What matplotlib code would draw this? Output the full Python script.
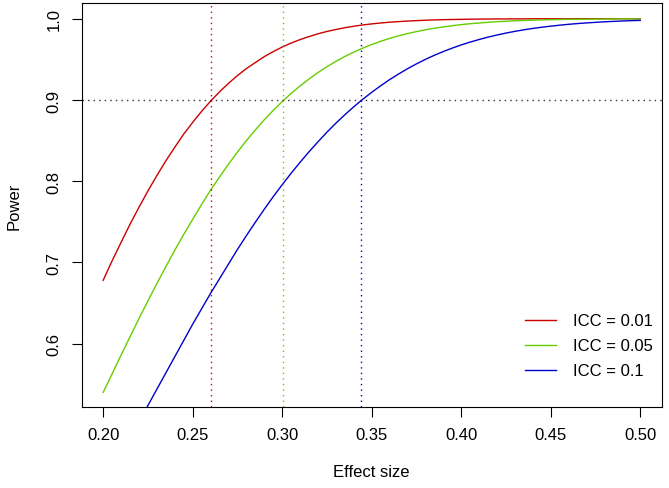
import matplotlib
matplotlib.use("Agg")
import matplotlib.pyplot as plt

plt.rcParams['font.family'] = ['Liberation Sans', 'DejaVu Sans']

# effect sizes and power (every 0.005)
effect = [0.200, 0.205, 0.210, 0.215, 0.220, 0.225, 0.230, 0.235, 0.240, 0.245,
          0.250, 0.255, 0.260, 0.265, 0.270, 0.275, 0.280, 0.285, 0.290, 0.295,
          0.300, 0.305, 0.310, 0.315, 0.320, 0.325, 0.330, 0.335, 0.340, 0.345,
          0.350, 0.355, 0.360, 0.365, 0.370, 0.375, 0.380, 0.385, 0.390, 0.395,
          0.400, 0.405, 0.410, 0.415, 0.420, 0.425, 0.430, 0.435, 0.440, 0.445,
          0.450, 0.455, 0.460, 0.465, 0.470, 0.475, 0.480, 0.485, 0.490, 0.495,
          0.500]

power_icc01 = [0.6780, 0.7020, 0.7247, 0.7470, 0.7679, 0.7880, 0.8070, 0.8250, 0.8418, 0.8580,
               0.8724, 0.8860, 0.8985, 0.9100, 0.9204, 0.9300, 0.9386, 0.9460, 0.9533, 0.9595,
               0.9651, 0.9700, 0.9743, 0.9780, 0.9814, 0.9843, 0.9867, 0.9889, 0.9907, 0.9923,
               0.9936, 0.9947, 0.9957, 0.9964, 0.9971, 0.9976, 0.9981, 0.9985, 0.9988, 0.9990,
               0.9992, 0.9994, 0.9995, 0.9996, 0.9997, 0.9997, 0.9998, 0.9998, 0.9999, 0.9999,
               0.9999, 0.9999, 0.9999, 1.0, 1.0, 1.0, 1.0, 1.0, 1.0, 1.0,
               1.0]
power_icc05 = [0.5400, 0.5630, 0.5860, 0.6085, 0.6310, 0.6527, 0.6740, 0.6948, 0.7150, 0.7345,
               0.7530, 0.7714, 0.7890, 0.8052, 0.8210, 0.8358, 0.8500, 0.8631, 0.8756, 0.8871,
               0.8980, 0.9080, 0.9173, 0.9258, 0.9337, 0.9409, 0.9475, 0.9535, 0.9589, 0.9638,
               0.9682, 0.9722, 0.9757, 0.9789, 0.9817, 0.9841, 0.9863, 0.9882, 0.9899, 0.9914,
               0.9927, 0.9938, 0.9947, 0.9955, 0.9963, 0.9969, 0.9974, 0.9978, 0.9982, 0.9985,
               0.9988, 0.9990, 0.9992, 0.9993, 0.9994, 0.9995, 0.9996, 0.9997, 0.9998, 0.9998,
               0.9998]
power_icc1 = [0.4220, 0.4420, 0.4626, 0.4830, 0.5030, 0.5240, 0.5440, 0.5640, 0.5840, 0.6040,
              0.6240, 0.6430, 0.6620, 0.6800, 0.6980, 0.7160, 0.7330, 0.7495, 0.7655, 0.7810,
              0.7956, 0.8098, 0.8233, 0.8362, 0.8485, 0.8603, 0.8714, 0.8818, 0.8916, 0.9008,
              0.9094, 0.9174, 0.9250, 0.9319, 0.9384, 0.9444, 0.9499, 0.9550, 0.9596, 0.9638,
              0.9677, 0.9712, 0.9744, 0.9773, 0.9799, 0.9823, 0.9844, 0.9863, 0.9880, 0.9895,
              0.9908, 0.9920, 0.9931, 0.9940, 0.9948, 0.9955, 0.9962, 0.9967, 0.9972, 0.9976,
              0.9979]

labels = ["ICC = 0.01", "ICC = 0.05", "ICC = 0.1"]
colors = ["#CD0000", "#66CD00", "#0000CD"]
# effect size where each curve reaches 90% power
cutoffs = [0.2605, 0.3007, 0.3443]
target = 0.9

fig = plt.figure(figsize=(6.69, 4.89), dpi=100)
ax = fig.add_axes([0.1221, 0.1663, 0.8670, 0.8255])

for p, lab, col in zip([power_icc01, power_icc05, power_icc1], labels, colors):
    ax.plot(effect, p, color=col, lw=1.0, label=lab)

ax.axhline(target, color="#333333", lw=1.0, linestyle=(0, (1, 3)))
for c, col in zip(cutoffs, colors):
    ax.axvline(c, color=col, lw=1.0, linestyle=(0, (1, 3)))

ax.set_xlim(0.188, 0.512)
ax.set_ylim(0.5225, 1.0193)
ax.set_xticks([0.20, 0.25, 0.30, 0.35, 0.40, 0.45, 0.50])
ax.set_xticklabels(["0.20", "0.25", "0.30", "0.35", "0.40", "0.45", "0.50"])
ax.set_yticks([0.6, 0.7, 0.8, 0.9, 1.0])
ax.set_yticklabels(["0.6", "0.7", "0.8", "0.9", "1.0"], rotation=90, va="center")
ax.tick_params(length=7.5, width=0.8, labelsize=12, pad=7)
for s in ax.spines.values():
    s.set_linewidth(0.8)

ax.set_xlabel("Effect size", fontsize=12, labelpad=16)
ax.set_ylabel("Power", fontsize=12, labelpad=18)

ax.legend(loc="lower right", bbox_to_anchor=(0.985, 0.07), frameon=False,
          fontsize=12, handlelength=1.9, handletextpad=1.0, labelspacing=0.6,
          borderpad=0, borderaxespad=0)

fig.savefig("out.png", dpi=100)
